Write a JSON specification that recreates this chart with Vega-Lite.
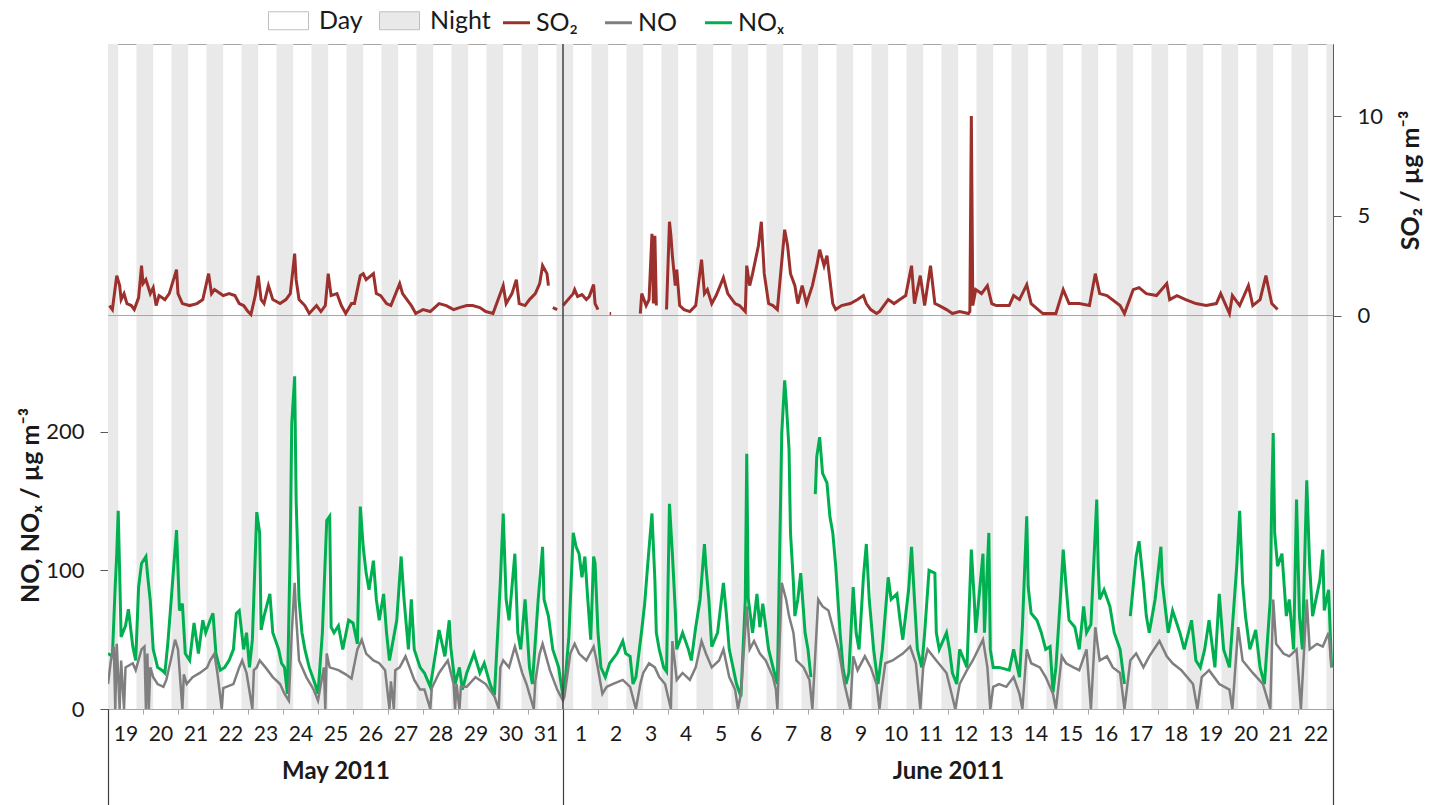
{
"$schema": "https://vega.github.io/schema/vega-lite/v6.json",
"width": 1225, "height": 665,
"autosize": {"type": "none"},
"padding": {"left": 108, "top": 44, "right": 101, "bottom": 96},
"background": "white",
"config": {
  "font": "Lato",
  "view": {"stroke": "#A6A6A6", "strokeWidth": 1},
  "axis": {"labelFont": "Lato", "titleFont": "Lato", "labelColor": "#1a1a1a", "titleColor": "#1a1a1a", "grid": false, "zindex": 1},
  "legend": {"labelFont": "Lato", "labelColor": "#1a1a1a"}
},
"datasets": {
"night": [
{"s":"2011-05-18T19:30","e":"2011-05-19T07:00"},{"s":"2011-05-19T19:30","e":"2011-05-20T07:00"},{"s":"2011-05-20T19:30","e":"2011-05-21T07:00"},{"s":"2011-05-21T19:30","e":"2011-05-22T07:00"},{"s":"2011-05-22T19:30","e":"2011-05-23T07:00"},{"s":"2011-05-23T19:30","e":"2011-05-24T07:00"},{"s":"2011-05-24T19:30","e":"2011-05-25T07:00"},{"s":"2011-05-25T19:30","e":"2011-05-26T07:00"},{"s":"2011-05-26T19:30","e":"2011-05-27T07:00"},{"s":"2011-05-27T19:30","e":"2011-05-28T07:00"},{"s":"2011-05-28T19:30","e":"2011-05-29T07:00"},{"s":"2011-05-29T19:30","e":"2011-05-30T07:00"},{"s":"2011-05-30T19:30","e":"2011-05-31T07:00"},{"s":"2011-05-31T19:30","e":"2011-06-01T07:00"},
{"s":"2011-06-01T19:30","e":"2011-06-02T07:00"},{"s":"2011-06-02T19:30","e":"2011-06-03T07:00"},{"s":"2011-06-03T19:30","e":"2011-06-04T07:00"},{"s":"2011-06-04T19:30","e":"2011-06-05T07:00"},{"s":"2011-06-05T19:30","e":"2011-06-06T07:00"},{"s":"2011-06-06T19:30","e":"2011-06-07T07:00"},{"s":"2011-06-07T19:30","e":"2011-06-08T07:00"},{"s":"2011-06-08T19:30","e":"2011-06-09T07:00"},{"s":"2011-06-09T19:30","e":"2011-06-10T07:00"},{"s":"2011-06-10T19:30","e":"2011-06-11T07:00"},{"s":"2011-06-11T19:30","e":"2011-06-12T07:00"},{"s":"2011-06-12T19:30","e":"2011-06-13T07:00"},{"s":"2011-06-13T19:30","e":"2011-06-14T07:00"},{"s":"2011-06-14T19:30","e":"2011-06-15T07:00"},{"s":"2011-06-15T19:30","e":"2011-06-16T07:00"},{"s":"2011-06-16T19:30","e":"2011-06-17T07:00"},{"s":"2011-06-17T19:30","e":"2011-06-18T07:00"},{"s":"2011-06-18T19:30","e":"2011-06-19T07:00"},{"s":"2011-06-19T19:30","e":"2011-06-20T07:00"},{"s":"2011-06-20T19:30","e":"2011-06-21T07:00"},{"s":"2011-06-21T19:30","e":"2011-06-22T07:00"},{"s":"2011-06-22T19:30","e":"2011-06-23T07:00"}
],
"nox": [
{"t":"2011-05-19T00:00","v":40},{"t":"2011-05-19T03:00","v":38},{"t":"2011-05-19T05:00","v":90},{"t":"2011-05-19T06:00","v":112},{"t":"2011-05-19T07:00","v":143},{"t":"2011-05-19T09:00","v":52},{"t":"2011-05-19T12:00","v":60},{"t":"2011-05-19T14:00","v":72},{"t":"2011-05-19T17:00","v":45},{"t":"2011-05-19T19:00","v":35},{"t":"2011-05-19T21:00","v":88},{"t":"2011-05-19T23:00","v":105},
{"t":"2011-05-20T02:00","v":110},{"t":"2011-05-20T03:00","v":98},{"t":"2011-05-20T05:00","v":78},{"t":"2011-05-20T07:00","v":43},{"t":"2011-05-20T10:00","v":30},{"t":"2011-05-20T13:00","v":28},{"t":"2011-05-20T15:00","v":26},{"t":"2011-05-20T17:00","v":47},{"t":"2011-05-20T19:00","v":74},{"t":"2011-05-20T23:00","v":129},
{"t":"2011-05-21T01:00","v":71},{"t":"2011-05-21T03:00","v":76},{"t":"2011-05-21T05:00","v":40},{"t":"2011-05-21T08:00","v":35},{"t":"2011-05-21T11:00","v":62},{"t":"2011-05-21T14:00","v":40},{"t":"2011-05-21T17:00","v":64},{"t":"2011-05-21T19:00","v":55},{"t":"2011-05-21T22:00","v":64},
{"t":"2011-05-22T00:00","v":69},{"t":"2011-05-22T02:00","v":40},{"t":"2011-05-22T05:00","v":28},{"t":"2011-05-22T08:00","v":30},{"t":"2011-05-22T11:00","v":35},{"t":"2011-05-22T14:00","v":43},{"t":"2011-05-22T16:00","v":69},{"t":"2011-05-22T18:00","v":71},{"t":"2011-05-22T21:00","v":43},{"t":"2011-05-22T23:00","v":55},
{"t":"2011-05-23T01:00","v":30},{"t":"2011-05-23T03:00","v":50},{"t":"2011-05-23T06:00","v":142},{"t":"2011-05-23T08:00","v":127},{"t":"2011-05-23T09:00","v":57},{"t":"2011-05-23T11:00","v":67},{"t":"2011-05-23T15:00","v":83},{"t":"2011-05-23T17:00","v":55},{"t":"2011-05-23T21:00","v":43},{"t":"2011-05-23T23:00","v":33},
{"t":"2011-05-24T01:00","v":30},{"t":"2011-05-24T03:00","v":11},{"t":"2011-05-24T05:00","v":120},{"t":"2011-05-24T06:00","v":206},{"t":"2011-05-24T08:00","v":240},{"t":"2011-05-24T09:00","v":151},{"t":"2011-05-24T11:00","v":79},{"t":"2011-05-24T13:00","v":55},{"t":"2011-05-24T15:00","v":43},{"t":"2011-05-24T18:00","v":30},{"t":"2011-05-24T22:00","v":18},
{"t":"2011-05-25T00:00","v":11},{"t":"2011-05-25T03:00","v":55},{"t":"2011-05-25T06:00","v":136},{"t":"2011-05-25T08:00","v":139},{"t":"2011-05-25T09:00","v":59},{"t":"2011-05-25T11:00","v":55},{"t":"2011-05-25T14:00","v":60},{"t":"2011-05-25T17:00","v":43},{"t":"2011-05-25T21:00","v":64},
{"t":"2011-05-26T00:00","v":62},{"t":"2011-05-26T03:00","v":47},{"t":"2011-05-26T05:00","v":146},{"t":"2011-05-26T07:00","v":117},{"t":"2011-05-26T09:00","v":98},{"t":"2011-05-26T11:00","v":86},{"t":"2011-05-26T14:00","v":107},{"t":"2011-05-26T16:00","v":79},{"t":"2011-05-26T18:00","v":64},{"t":"2011-05-26T21:00","v":83},{"t":"2011-05-26T23:00","v":55},
{"t":"2011-05-27T01:00","v":35},{"t":"2011-05-27T06:00","v":64},{"t":"2011-05-27T09:00","v":110},{"t":"2011-05-27T11:00","v":79},{"t":"2011-05-27T14:00","v":43},{"t":"2011-05-27T16:00","v":79},{"t":"2011-05-27T18:00","v":43},{"t":"2011-05-27T22:00","v":30},
{"t":"2011-05-28T01:00","v":26},{"t":"2011-05-28T05:00","v":16},{"t":"2011-05-28T09:00","v":43},{"t":"2011-05-28T11:00","v":57},{"t":"2011-05-28T15:00","v":38},{"t":"2011-05-28T18:00","v":64},{"t":"2011-05-28T19:00","v":45},{"t":"2011-05-28T22:00","v":18},
{"t":"2011-05-29T01:00","v":30},{"t":"2011-05-29T03:00","v":14},{"t":"2011-05-29T06:00","v":26},{"t":"2011-05-29T11:00","v":40},{"t":"2011-05-29T15:00","v":26},{"t":"2011-05-29T18:00","v":33},{"t":"2011-05-29T22:00","v":18},
{"t":"2011-05-30T01:00","v":10},{"t":"2011-05-30T05:00","v":91},{"t":"2011-05-30T07:00","v":141},{"t":"2011-05-30T09:00","v":79},{"t":"2011-05-30T11:00","v":64},{"t":"2011-05-30T15:00","v":112},{"t":"2011-05-30T17:00","v":55},{"t":"2011-05-30T19:00","v":43},{"t":"2011-05-30T22:00","v":79},
{"t":"2011-05-31T01:00","v":30},{"t":"2011-05-31T03:00","v":18},{"t":"2011-05-31T07:00","v":79},{"t":"2011-05-31T10:00","v":117},{"t":"2011-05-31T11:00","v":79},{"t":"2011-05-31T14:00","v":67},{"t":"2011-05-31T17:00","v":43},{"t":"2011-05-31T21:00","v":30},
{"t":"2011-06-01T00:00","v":9},{"t":"2011-06-01T01:00","v":14},{"t":"2011-06-01T04:00","v":52},{"t":"2011-06-01T07:00","v":127},{"t":"2011-06-01T09:00","v":117},{"t":"2011-06-01T11:00","v":112},{"t":"2011-06-01T13:00","v":95},{"t":"2011-06-01T15:00","v":110},{"t":"2011-06-01T17:00","v":79},{"t":"2011-06-01T19:00","v":50},{"t":"2011-06-01T21:00","v":110},{"t":"2011-06-01T22:00","v":105},
{"t":"2011-06-02T00:00","v":55},{"t":"2011-06-02T02:00","v":30},{"t":"2011-06-02T05:00","v":23},{"t":"2011-06-02T08:00","v":33},{"t":"2011-06-02T13:00","v":40},{"t":"2011-06-02T17:00","v":49},{"t":"2011-06-02T19:00","v":40},{"t":"2011-06-02T22:00","v":38},
{"t":"2011-06-03T00:00","v":18},{"t":"2011-06-03T02:00","v":23},{"t":"2011-06-03T06:00","v":57},{"t":"2011-06-03T08:00","v":76},{"t":"2011-06-03T10:00","v":103},{"t":"2011-06-03T13:00","v":141},{"t":"2011-06-03T15:00","v":93},{"t":"2011-06-03T16:00","v":55},{"t":"2011-06-03T18:00","v":43},{"t":"2011-06-03T21:00","v":30},{"t":"2011-06-03T23:00","v":27},
{"t":"2011-06-04T01:00","v":148},{"t":"2011-06-04T03:00","v":112},{"t":"2011-06-04T05:00","v":71},{"t":"2011-06-04T06:00","v":43},{"t":"2011-06-04T10:00","v":55},{"t":"2011-06-04T14:00","v":43},{"t":"2011-06-04T16:00","v":35},{"t":"2011-06-04T19:00","v":59},{"t":"2011-06-04T22:00","v":79},
{"t":"2011-06-05T01:00","v":119},{"t":"2011-06-05T02:00","v":103},{"t":"2011-06-05T04:00","v":79},{"t":"2011-06-05T06:00","v":45},{"t":"2011-06-05T10:00","v":55},{"t":"2011-06-05T14:00","v":91},{"t":"2011-06-05T16:00","v":69},{"t":"2011-06-05T18:00","v":43},{"t":"2011-06-05T23:00","v":18},
{"t":"2011-06-06T02:00","v":9},{"t":"2011-06-06T05:00","v":79},{"t":"2011-06-06T06:00","v":184},{"t":"2011-06-06T07:00","v":80},{"t":"2011-06-06T10:00","v":55},{"t":"2011-06-06T13:00","v":83},{"t":"2011-06-06T15:00","v":59},{"t":"2011-06-06T17:00","v":76},{"t":"2011-06-06T21:00","v":43},
{"t":"2011-06-07T00:00","v":30},{"t":"2011-06-07T03:00","v":18},{"t":"2011-06-07T06:00","v":199},{"t":"2011-06-07T08:00","v":237},{"t":"2011-06-07T09:00","v":223},{"t":"2011-06-07T11:00","v":187},{"t":"2011-06-07T12:00","v":127},{"t":"2011-06-07T14:00","v":91},{"t":"2011-06-07T15:00","v":67},{"t":"2011-06-07T17:00","v":79},{"t":"2011-06-07T19:00","v":98},{"t":"2011-06-07T22:00","v":55},
{"t":"2011-06-08T00:00","v":43},{"t":"2011-06-08T02:00","v":23},{"t":"2011-06-08T03:00","v":null},{"t":"2011-06-08T05:00","v":155},{"t":"2011-06-08T06:00","v":182},{"t":"2011-06-08T08:00","v":196},{"t":"2011-06-08T10:00","v":170},{"t":"2011-06-08T13:00","v":163},{"t":"2011-06-08T15:00","v":139},{"t":"2011-06-08T17:00","v":127},{"t":"2011-06-08T19:00","v":103},{"t":"2011-06-08T22:00","v":55},
{"t":"2011-06-09T00:00","v":30},{"t":"2011-06-09T02:00","v":18},{"t":"2011-06-09T04:00","v":26},{"t":"2011-06-09T07:00","v":88},{"t":"2011-06-09T09:00","v":55},{"t":"2011-06-09T11:00","v":43},{"t":"2011-06-09T14:00","v":95},{"t":"2011-06-09T16:00","v":119},{"t":"2011-06-09T18:00","v":79},{"t":"2011-06-09T21:00","v":43},
{"t":"2011-06-10T00:00","v":18},{"t":"2011-06-10T03:00","v":43},{"t":"2011-06-10T07:00","v":95},{"t":"2011-06-10T09:00","v":79},{"t":"2011-06-10T13:00","v":83},{"t":"2011-06-10T15:00","v":65},{"t":"2011-06-10T17:00","v":50},{"t":"2011-06-10T21:00","v":86},{"t":"2011-06-10T23:00","v":117},
{"t":"2011-06-11T01:00","v":79},{"t":"2011-06-11T03:00","v":43},{"t":"2011-06-11T06:00","v":30},{"t":"2011-06-11T08:00","v":55},{"t":"2011-06-11T11:00","v":100},{"t":"2011-06-11T15:00","v":98},{"t":"2011-06-11T16:00","v":55},{"t":"2011-06-11T18:00","v":43},{"t":"2011-06-11T23:00","v":55},
{"t":"2011-06-12T01:00","v":43},{"t":"2011-06-12T03:00","v":26},{"t":"2011-06-12T06:00","v":18},{"t":"2011-06-12T08:00","v":43},{"t":"2011-06-12T13:00","v":30},{"t":"2011-06-12T16:00","v":115},{"t":"2011-06-12T18:00","v":79},{"t":"2011-06-12T19:00","v":55},
{"t":"2011-06-13T00:00","v":112},{"t":"2011-06-13T01:00","v":55},{"t":"2011-06-13T04:00","v":127},{"t":"2011-06-13T05:00","v":43},{"t":"2011-06-13T07:00","v":30},{"t":"2011-06-13T11:00","v":30},{"t":"2011-06-13T18:00","v":28},{"t":"2011-06-13T21:00","v":43},
{"t":"2011-06-14T01:00","v":23},{"t":"2011-06-14T03:00","v":59},{"t":"2011-06-14T06:00","v":139},{"t":"2011-06-14T07:00","v":88},{"t":"2011-06-14T09:00","v":69},{"t":"2011-06-14T13:00","v":64},{"t":"2011-06-14T16:00","v":55},{"t":"2011-06-14T19:00","v":43},{"t":"2011-06-14T22:00","v":45},
{"t":"2011-06-15T00:00","v":12},{"t":"2011-06-15T02:00","v":30},{"t":"2011-06-15T05:00","v":79},{"t":"2011-06-15T07:00","v":115},{"t":"2011-06-15T09:00","v":88},{"t":"2011-06-15T11:00","v":64},{"t":"2011-06-15T15:00","v":59},{"t":"2011-06-15T18:00","v":43},{"t":"2011-06-15T21:00","v":74},{"t":"2011-06-15T23:00","v":55},
{"t":"2011-06-16T02:00","v":61},{"t":"2011-06-16T06:00","v":151},{"t":"2011-06-16T07:00","v":103},{"t":"2011-06-16T08:00","v":79},{"t":"2011-06-16T11:00","v":86},{"t":"2011-06-16T15:00","v":74},{"t":"2011-06-16T18:00","v":55},{"t":"2011-06-16T22:00","v":43},
{"t":"2011-06-17T01:00","v":18},{"t":"2011-06-17T02:00","v":null},{"t":"2011-06-17T05:00","v":67},{"t":"2011-06-17T09:00","v":110},{"t":"2011-06-17T11:00","v":121},{"t":"2011-06-17T14:00","v":91},{"t":"2011-06-17T16:00","v":67},{"t":"2011-06-17T18:00","v":55},{"t":"2011-06-17T22:00","v":79},
{"t":"2011-06-18T02:00","v":117},{"t":"2011-06-18T03:00","v":91},{"t":"2011-06-18T07:00","v":55},{"t":"2011-06-18T10:00","v":71},{"t":"2011-06-18T15:00","v":55},{"t":"2011-06-18T18:00","v":43},{"t":"2011-06-18T23:00","v":64},
{"t":"2011-06-19T02:00","v":35},{"t":"2011-06-19T05:00","v":30},{"t":"2011-06-19T08:00","v":43},{"t":"2011-06-19T11:00","v":64},{"t":"2011-06-19T15:00","v":30},{"t":"2011-06-19T18:00","v":83},{"t":"2011-06-19T21:00","v":43},
{"t":"2011-06-20T01:00","v":30},{"t":"2011-06-20T06:00","v":103},{"t":"2011-06-20T08:00","v":143},{"t":"2011-06-20T10:00","v":91},{"t":"2011-06-20T12:00","v":67},{"t":"2011-06-20T15:00","v":43},{"t":"2011-06-20T19:00","v":57},{"t":"2011-06-20T22:00","v":30},
{"t":"2011-06-21T01:00","v":18},{"t":"2011-06-21T05:00","v":79},{"t":"2011-06-21T06:00","v":153},{"t":"2011-06-21T07:00","v":199},{"t":"2011-06-21T08:00","v":127},{"t":"2011-06-21T10:00","v":103},{"t":"2011-06-21T13:00","v":112},{"t":"2011-06-21T16:00","v":67},{"t":"2011-06-21T18:00","v":79},{"t":"2011-06-21T21:00","v":43},{"t":"2011-06-21T23:00","v":151},
{"t":"2011-06-22T01:00","v":67},{"t":"2011-06-22T03:00","v":43},{"t":"2011-06-22T06:00","v":165},{"t":"2011-06-22T08:00","v":103},{"t":"2011-06-22T10:00","v":67},{"t":"2011-06-22T15:00","v":93},{"t":"2011-06-22T17:00","v":115},{"t":"2011-06-22T18:00","v":71},{"t":"2011-06-22T21:00","v":86},{"t":"2011-06-22T23:00","v":30}
],
"no": [
{"t":"2011-05-19T00:00","v":18},{"t":"2011-05-19T02:00","v":35},{"t":"2011-05-19T04:00","v":45},{"t":"2011-05-19T05:00","v":0},{"t":"2011-05-19T06:00","v":47},{"t":"2011-05-19T08:00","v":0},{"t":"2011-05-19T09:00","v":35},{"t":"2011-05-19T11:00","v":0},{"t":"2011-05-19T12:00","v":30},{"t":"2011-05-19T17:00","v":33},{"t":"2011-05-19T19:00","v":28},{"t":"2011-05-19T23:00","v":43},
{"t":"2011-05-20T01:00","v":45},{"t":"2011-05-20T02:00","v":0},{"t":"2011-05-20T03:00","v":40},{"t":"2011-05-20T04:00","v":0},{"t":"2011-05-20T05:00","v":30},{"t":"2011-05-20T07:00","v":23},{"t":"2011-05-20T10:00","v":18},{"t":"2011-05-20T14:00","v":16},{"t":"2011-05-20T16:00","v":21},{"t":"2011-05-20T19:00","v":35},{"t":"2011-05-20T22:00","v":50},
{"t":"2011-05-21T00:00","v":43},{"t":"2011-05-21T03:00","v":0},{"t":"2011-05-21T04:00","v":25},{"t":"2011-05-21T06:00","v":18},{"t":"2011-05-21T10:00","v":23},{"t":"2011-05-21T15:00","v":26},{"t":"2011-05-21T20:00","v":30},{"t":"2011-05-21T22:00","v":35},
{"t":"2011-05-22T01:00","v":40},{"t":"2011-05-22T03:00","v":26},{"t":"2011-05-22T06:00","v":0},{"t":"2011-05-22T07:00","v":15},{"t":"2011-05-22T14:00","v":18},{"t":"2011-05-22T18:00","v":30},{"t":"2011-05-22T20:00","v":35},{"t":"2011-05-22T23:00","v":26},
{"t":"2011-05-23T03:00","v":0},{"t":"2011-05-23T04:00","v":28},{"t":"2011-05-23T06:00","v":30},{"t":"2011-05-23T08:00","v":35},{"t":"2011-05-23T12:00","v":30},{"t":"2011-05-23T17:00","v":23},{"t":"2011-05-23T22:00","v":18},
{"t":"2011-05-24T01:00","v":11},{"t":"2011-05-24T04:00","v":6},{"t":"2011-05-24T06:00","v":55},{"t":"2011-05-24T08:00","v":91},{"t":"2011-05-24T09:00","v":67},{"t":"2011-05-24T11:00","v":35},{"t":"2011-05-24T16:00","v":23},{"t":"2011-05-24T21:00","v":14},
{"t":"2011-05-25T00:00","v":6},{"t":"2011-05-25T04:00","v":30},{"t":"2011-05-25T05:00","v":0},{"t":"2011-05-25T06:00","v":40},{"t":"2011-05-25T08:00","v":30},{"t":"2011-05-25T14:00","v":28},{"t":"2011-05-25T19:00","v":25},{"t":"2011-05-25T23:00","v":22},
{"t":"2011-05-26T03:00","v":43},{"t":"2011-05-26T06:00","v":50},{"t":"2011-05-26T09:00","v":40},{"t":"2011-05-26T14:00","v":35},{"t":"2011-05-26T18:00","v":33},{"t":"2011-05-26T22:00","v":28},
{"t":"2011-05-27T01:00","v":0},{"t":"2011-05-27T02:00","v":20},{"t":"2011-05-27T04:00","v":0},{"t":"2011-05-27T05:00","v":28},{"t":"2011-05-27T08:00","v":30},{"t":"2011-05-27T12:00","v":38},{"t":"2011-05-27T18:00","v":21},{"t":"2011-05-27T22:00","v":14},
{"t":"2011-05-28T01:00","v":14},{"t":"2011-05-28T05:00","v":0},{"t":"2011-05-28T06:00","v":15},{"t":"2011-05-28T11:00","v":26},{"t":"2011-05-28T17:00","v":35},{"t":"2011-05-28T21:00","v":18},{"t":"2011-05-28T22:00","v":0},{"t":"2011-05-28T23:00","v":18},
{"t":"2011-05-29T01:00","v":0},{"t":"2011-05-29T02:00","v":16},{"t":"2011-05-29T06:00","v":16},{"t":"2011-05-29T12:00","v":23},{"t":"2011-05-29T19:00","v":18},{"t":"2011-05-29T23:00","v":12},
{"t":"2011-05-30T01:00","v":9},{"t":"2011-05-30T04:00","v":0},{"t":"2011-05-30T05:00","v":30},{"t":"2011-05-30T07:00","v":35},{"t":"2011-05-30T11:00","v":30},{"t":"2011-05-30T15:00","v":45},{"t":"2011-05-30T20:00","v":26},{"t":"2011-05-30T23:00","v":18},
{"t":"2011-05-31T04:00","v":0},{"t":"2011-05-31T05:00","v":20},{"t":"2011-05-31T08:00","v":40},{"t":"2011-05-31T10:00","v":47},{"t":"2011-05-31T15:00","v":28},{"t":"2011-05-31T20:00","v":14},
{"t":"2011-06-01T00:00","v":6},{"t":"2011-06-01T01:00","v":9},{"t":"2011-06-01T05:00","v":40},{"t":"2011-06-01T08:00","v":47},{"t":"2011-06-01T11:00","v":40},{"t":"2011-06-01T16:00","v":35},{"t":"2011-06-01T21:00","v":45},{"t":"2011-06-01T23:00","v":35},
{"t":"2011-06-02T03:00","v":11},{"t":"2011-06-02T06:00","v":16},{"t":"2011-06-02T10:00","v":18},{"t":"2011-06-02T17:00","v":21},{"t":"2011-06-02T22:00","v":16},
{"t":"2011-06-03T02:00","v":0},{"t":"2011-06-03T05:00","v":18},{"t":"2011-06-03T07:00","v":26},{"t":"2011-06-03T11:00","v":33},{"t":"2011-06-03T15:00","v":30},{"t":"2011-06-03T18:00","v":23},{"t":"2011-06-03T22:00","v":18},
{"t":"2011-06-04T02:00","v":0},{"t":"2011-06-04T03:00","v":49},{"t":"2011-06-04T06:00","v":21},{"t":"2011-06-04T10:00","v":26},{"t":"2011-06-04T15:00","v":21},{"t":"2011-06-04T19:00","v":30},{"t":"2011-06-04T23:00","v":49},
{"t":"2011-06-05T02:00","v":40},{"t":"2011-06-05T06:00","v":30},{"t":"2011-06-05T11:00","v":35},{"t":"2011-06-05T14:00","v":43},{"t":"2011-06-05T18:00","v":23},{"t":"2011-06-05T22:00","v":14},
{"t":"2011-06-06T00:00","v":0},{"t":"2011-06-06T02:00","v":11},{"t":"2011-06-06T06:00","v":74},{"t":"2011-06-06T08:00","v":43},{"t":"2011-06-06T11:00","v":49},{"t":"2011-06-06T15:00","v":40},{"t":"2011-06-06T19:00","v":35},
{"t":"2011-06-07T00:00","v":23},{"t":"2011-06-07T02:00","v":14},{"t":"2011-06-07T03:00","v":0},{"t":"2011-06-07T06:00","v":91},{"t":"2011-06-07T09:00","v":79},{"t":"2011-06-07T11:00","v":67},{"t":"2011-06-07T14:00","v":55},{"t":"2011-06-07T16:00","v":35},{"t":"2011-06-07T21:00","v":30},
{"t":"2011-06-08T01:00","v":21},{"t":"2011-06-08T03:00","v":0},{"t":"2011-06-08T07:00","v":79},{"t":"2011-06-08T10:00","v":74},{"t":"2011-06-08T14:00","v":71},{"t":"2011-06-08T17:00","v":59},{"t":"2011-06-08T21:00","v":43},
{"t":"2011-06-09T01:00","v":18},{"t":"2011-06-09T05:00","v":0},{"t":"2011-06-09T07:00","v":38},{"t":"2011-06-09T10:00","v":28},{"t":"2011-06-09T15:00","v":38},{"t":"2011-06-09T19:00","v":30},{"t":"2011-06-09T23:00","v":18},
{"t":"2011-06-10T01:00","v":0},{"t":"2011-06-10T02:00","v":10},{"t":"2011-06-10T05:00","v":33},{"t":"2011-06-10T10:00","v":35},{"t":"2011-06-10T17:00","v":40},{"t":"2011-06-10T22:00","v":45},
{"t":"2011-06-11T02:00","v":33},{"t":"2011-06-11T05:00","v":0},{"t":"2011-06-11T07:00","v":30},{"t":"2011-06-11T10:00","v":43},{"t":"2011-06-11T16:00","v":35},{"t":"2011-06-11T23:00","v":26},
{"t":"2011-06-12T05:00","v":0},{"t":"2011-06-12T08:00","v":18},{"t":"2011-06-12T13:00","v":28},{"t":"2011-06-12T17:00","v":35},
{"t":"2011-06-13T00:00","v":50},{"t":"2011-06-13T03:00","v":30},{"t":"2011-06-13T05:00","v":0},{"t":"2011-06-13T07:00","v":16},{"t":"2011-06-13T11:00","v":18},{"t":"2011-06-13T16:00","v":16},{"t":"2011-06-13T21:00","v":23},
{"t":"2011-06-14T01:00","v":11},{"t":"2011-06-14T03:00","v":0},{"t":"2011-06-14T06:00","v":43},{"t":"2011-06-14T09:00","v":33},{"t":"2011-06-14T15:00","v":30},{"t":"2011-06-14T19:00","v":23},
{"t":"2011-06-15T00:00","v":11},{"t":"2011-06-15T02:00","v":0},{"t":"2011-06-15T06:00","v":38},{"t":"2011-06-15T09:00","v":33},{"t":"2011-06-15T14:00","v":30},{"t":"2011-06-15T18:00","v":28},{"t":"2011-06-15T23:00","v":43},
{"t":"2011-06-16T02:00","v":0},{"t":"2011-06-16T05:00","v":59},{"t":"2011-06-16T08:00","v":35},{"t":"2011-06-16T13:00","v":38},{"t":"2011-06-16T17:00","v":30},{"t":"2011-06-16T22:00","v":26},
{"t":"2011-06-17T01:00","v":0},{"t":"2011-06-17T05:00","v":35},{"t":"2011-06-17T09:00","v":40},{"t":"2011-06-17T14:00","v":30},{"t":"2011-06-17T18:00","v":38},
{"t":"2011-06-18T01:00","v":49},{"t":"2011-06-18T06:00","v":38},{"t":"2011-06-18T10:00","v":33},{"t":"2011-06-18T16:00","v":28},
{"t":"2011-06-19T00:00","v":18},{"t":"2011-06-19T03:00","v":0},{"t":"2011-06-19T06:00","v":23},{"t":"2011-06-19T11:00","v":28},{"t":"2011-06-19T18:00","v":18},
{"t":"2011-06-20T01:00","v":14},{"t":"2011-06-20T03:00","v":0},{"t":"2011-06-20T07:00","v":59},{"t":"2011-06-20T10:00","v":35},{"t":"2011-06-20T17:00","v":26},
{"t":"2011-06-21T00:00","v":18},{"t":"2011-06-21T05:00","v":0},{"t":"2011-06-21T07:00","v":79},{"t":"2011-06-21T09:00","v":47},{"t":"2011-06-21T14:00","v":40},{"t":"2011-06-21T18:00","v":38},{"t":"2011-06-21T23:00","v":43},
{"t":"2011-06-22T02:00","v":0},{"t":"2011-06-22T06:00","v":79},{"t":"2011-06-22T08:00","v":43},{"t":"2011-06-22T13:00","v":47},{"t":"2011-06-22T17:00","v":45},{"t":"2011-06-22T21:00","v":55},{"t":"2011-06-22T23:00","v":30}
],
"so2": [
{"t":"2011-05-19T01:00","v":0.5},{"t":"2011-05-19T03:00","v":0.3},{"t":"2011-05-19T06:00","v":2.0},{"t":"2011-05-19T08:00","v":1.5},{"t":"2011-05-19T09:00","v":0.8},{"t":"2011-05-19T11:00","v":1.1},{"t":"2011-05-19T13:00","v":0.6},{"t":"2011-05-19T16:00","v":0.5},{"t":"2011-05-19T18:00","v":0.3},{"t":"2011-05-19T21:00","v":0.9},{"t":"2011-05-19T23:00","v":2.5},
{"t":"2011-05-20T00:00","v":1.6},{"t":"2011-05-20T02:00","v":1.8},{"t":"2011-05-20T05:00","v":1.1},{"t":"2011-05-20T07:00","v":1.4},{"t":"2011-05-20T09:00","v":0.5},{"t":"2011-05-20T11:00","v":1.0},{"t":"2011-05-20T15:00","v":0.8},{"t":"2011-05-20T18:00","v":1.1},{"t":"2011-05-20T23:00","v":2.3},
{"t":"2011-05-21T00:00","v":1.1},{"t":"2011-05-21T03:00","v":0.6},{"t":"2011-05-21T08:00","v":0.5},{"t":"2011-05-21T13:00","v":0.6},{"t":"2011-05-21T17:00","v":0.8},{"t":"2011-05-21T21:00","v":2.1},{"t":"2011-05-21T23:00","v":1.1},
{"t":"2011-05-22T01:00","v":1.3},{"t":"2011-05-22T07:00","v":1.0},{"t":"2011-05-22T11:00","v":1.1},{"t":"2011-05-22T15:00","v":1.0},{"t":"2011-05-22T18:00","v":0.6},{"t":"2011-05-22T21:00","v":0.5},
{"t":"2011-05-23T00:00","v":0.2},{"t":"2011-05-23T02:00","v":0.05},{"t":"2011-05-23T05:00","v":1.0},{"t":"2011-05-23T07:00","v":2.0},{"t":"2011-05-23T09:00","v":0.8},{"t":"2011-05-23T11:00","v":0.6},{"t":"2011-05-23T14:00","v":1.5},{"t":"2011-05-23T17:00","v":0.8},{"t":"2011-05-23T22:00","v":0.6},
{"t":"2011-05-24T02:00","v":0.8},{"t":"2011-05-24T05:00","v":1.1},{"t":"2011-05-24T08:00","v":3.1},{"t":"2011-05-24T09:00","v":1.8},{"t":"2011-05-24T11:00","v":0.8},{"t":"2011-05-24T15:00","v":0.5},{"t":"2011-05-24T18:00","v":0.1},{"t":"2011-05-24T23:00","v":0.5},
{"t":"2011-05-25T02:00","v":0.2},{"t":"2011-05-25T05:00","v":0.5},{"t":"2011-05-25T07:00","v":2.1},{"t":"2011-05-25T09:00","v":1.0},{"t":"2011-05-25T13:00","v":1.1},{"t":"2011-05-25T16:00","v":0.5},{"t":"2011-05-25T19:00","v":0.1},{"t":"2011-05-25T23:00","v":0.6},
{"t":"2011-05-26T01:00","v":0.6},{"t":"2011-05-26T05:00","v":2.0},{"t":"2011-05-26T07:00","v":2.1},{"t":"2011-05-26T09:00","v":1.8},{"t":"2011-05-26T14:00","v":2.1},{"t":"2011-05-26T16:00","v":1.1},{"t":"2011-05-26T19:00","v":1.0},{"t":"2011-05-26T23:00","v":0.6},
{"t":"2011-05-27T02:00","v":0.5},{"t":"2011-05-27T08:00","v":1.6},{"t":"2011-05-27T10:00","v":1.1},{"t":"2011-05-27T13:00","v":0.8},{"t":"2011-05-27T16:00","v":0.5},{"t":"2011-05-27T19:00","v":0.1},
{"t":"2011-05-28T00:00","v":0.3},{"t":"2011-05-28T05:00","v":0.2},{"t":"2011-05-28T11:00","v":0.6},{"t":"2011-05-28T16:00","v":0.5},{"t":"2011-05-28T21:00","v":0.3},
{"t":"2011-05-29T01:00","v":0.4},{"t":"2011-05-29T06:00","v":0.5},{"t":"2011-05-29T10:00","v":0.5},{"t":"2011-05-29T15:00","v":0.4},{"t":"2011-05-29T19:00","v":0.2},
{"t":"2011-05-30T00:00","v":0.1},{"t":"2011-05-30T07:00","v":1.5},{"t":"2011-05-30T09:00","v":0.6},{"t":"2011-05-30T13:00","v":1.1},{"t":"2011-05-30T16:00","v":1.8},{"t":"2011-05-30T18:00","v":0.6},{"t":"2011-05-30T22:00","v":0.5},
{"t":"2011-05-31T01:00","v":0.8},{"t":"2011-05-31T05:00","v":1.1},{"t":"2011-05-31T08:00","v":1.6},{"t":"2011-05-31T10:00","v":2.5},{"t":"2011-05-31T13:00","v":2.1},{"t":"2011-05-31T14:00","v":1.5},{"t":"2011-05-31T16:00","v":null},{"t":"2011-05-31T17:00","v":0.4},{"t":"2011-05-31T20:00","v":0.3},{"t":"2011-05-31T22:00","v":null},
{"t":"2011-06-01T00:00","v":0.5},{"t":"2011-06-01T07:00","v":1.1},{"t":"2011-06-01T08:00","v":1.3},{"t":"2011-06-01T10:00","v":0.95},{"t":"2011-06-01T13:00","v":1.05},{"t":"2011-06-01T16:00","v":0.8},{"t":"2011-06-01T18:00","v":0.95},{"t":"2011-06-01T21:00","v":1.55},{"t":"2011-06-01T22:00","v":0.6},
{"t":"2011-06-02T00:00","v":0.3},{"t":"2011-06-02T02:00","v":null},{"t":"2011-06-02T08:00","v":0.1},{"t":"2011-06-02T09:00","v":0.1},{"t":"2011-06-02T11:00","v":null},
{"t":"2011-06-03T05:00","v":0.1},{"t":"2011-06-03T06:00","v":1.1},{"t":"2011-06-03T09:00","v":0.5},{"t":"2011-06-03T11:00","v":0.8},{"t":"2011-06-03T13:00","v":4.1},{"t":"2011-06-03T14:00","v":0.6},{"t":"2011-06-03T15:00","v":4.0},{"t":"2011-06-03T16:00","v":0.5},{"t":"2011-06-03T18:00","v":null},{"t":"2011-06-03T23:00","v":0.3},
{"t":"2011-06-04T01:00","v":4.7},{"t":"2011-06-04T02:00","v":4.0},{"t":"2011-06-04T03:00","v":3.0},{"t":"2011-06-04T05:00","v":1.5},{"t":"2011-06-04T06:00","v":2.3},{"t":"2011-06-04T08:00","v":0.5},{"t":"2011-06-04T11:00","v":0.3},{"t":"2011-06-04T15:00","v":0.2},{"t":"2011-06-04T19:00","v":0.5},{"t":"2011-06-04T23:00","v":2.8},
{"t":"2011-06-05T01:00","v":1.1},{"t":"2011-06-05T03:00","v":1.3},{"t":"2011-06-05T06:00","v":0.6},{"t":"2011-06-05T09:00","v":1.0},{"t":"2011-06-05T14:00","v":1.9},{"t":"2011-06-05T17:00","v":1.1},{"t":"2011-06-05T22:00","v":0.6},
{"t":"2011-06-06T01:00","v":0.5},{"t":"2011-06-06T05:00","v":0.2},{"t":"2011-06-06T06:00","v":2.5},{"t":"2011-06-06T08:00","v":1.5},{"t":"2011-06-06T10:00","v":2.1},{"t":"2011-06-06T14:00","v":3.5},{"t":"2011-06-06T16:00","v":4.7},{"t":"2011-06-06T18:00","v":2.1},{"t":"2011-06-06T21:00","v":0.6},
{"t":"2011-06-07T00:00","v":0.5},{"t":"2011-06-07T03:00","v":0.3},{"t":"2011-06-07T08:00","v":4.3},{"t":"2011-06-07T10:00","v":3.5},{"t":"2011-06-07T12:00","v":2.1},{"t":"2011-06-07T15:00","v":1.5},{"t":"2011-06-07T17:00","v":0.6},{"t":"2011-06-07T20:00","v":1.5},{"t":"2011-06-07T23:00","v":0.6},
{"t":"2011-06-08T03:00","v":1.5},{"t":"2011-06-08T06:00","v":2.5},{"t":"2011-06-08T08:00","v":3.3},{"t":"2011-06-08T11:00","v":2.5},{"t":"2011-06-08T13:00","v":3.0},{"t":"2011-06-08T15:00","v":1.8},{"t":"2011-06-08T17:00","v":0.6},{"t":"2011-06-08T19:00","v":0.3},{"t":"2011-06-08T23:00","v":0.5},
{"t":"2011-06-09T05:00","v":0.6},{"t":"2011-06-09T10:00","v":0.8},{"t":"2011-06-09T14:00","v":1.0},{"t":"2011-06-09T16:00","v":0.6},{"t":"2011-06-09T19:00","v":0.3},{"t":"2011-06-09T23:00","v":0.1},
{"t":"2011-06-10T01:00","v":0.2},{"t":"2011-06-10T07:00","v":0.8},{"t":"2011-06-10T11:00","v":0.6},{"t":"2011-06-10T15:00","v":0.8},{"t":"2011-06-10T19:00","v":1.0},{"t":"2011-06-10T23:00","v":2.5},
{"t":"2011-06-11T01:00","v":0.6},{"t":"2011-06-11T05:00","v":2.0},{"t":"2011-06-11T08:00","v":0.5},{"t":"2011-06-11T12:00","v":2.5},{"t":"2011-06-11T15:00","v":0.6},{"t":"2011-06-11T18:00","v":0.5},{"t":"2011-06-11T23:00","v":0.3},
{"t":"2011-06-12T03:00","v":0.1},{"t":"2011-06-12T08:00","v":0.2},{"t":"2011-06-12T14:00","v":0.1},{"t":"2011-06-12T15:00","v":0.2},{"t":"2011-06-12T16:00","v":10.0},{"t":"2011-06-12T17:00","v":0.5},{"t":"2011-06-12T19:00","v":1.3},{"t":"2011-06-12T23:00","v":1.1},
{"t":"2011-06-13T03:00","v":1.5},{"t":"2011-06-13T06:00","v":0.6},{"t":"2011-06-13T09:00","v":0.5},{"t":"2011-06-13T11:00","v":0.5},{"t":"2011-06-13T18:00","v":0.5},{"t":"2011-06-13T21:00","v":1.0},
{"t":"2011-06-14T01:00","v":0.8},{"t":"2011-06-14T06:00","v":1.55},{"t":"2011-06-14T09:00","v":0.6},{"t":"2011-06-14T17:00","v":0.1},
{"t":"2011-06-15T02:00","v":0.1},{"t":"2011-06-15T07:00","v":1.3},{"t":"2011-06-15T11:00","v":0.6},{"t":"2011-06-15T18:00","v":0.6},
{"t":"2011-06-16T01:00","v":0.5},{"t":"2011-06-16T05:00","v":2.1},{"t":"2011-06-16T08:00","v":1.1},{"t":"2011-06-16T13:00","v":1.0},{"t":"2011-06-16T22:00","v":0.5},
{"t":"2011-06-17T01:00","v":0.1},{"t":"2011-06-17T07:00","v":1.3},{"t":"2011-06-17T11:00","v":1.4},{"t":"2011-06-17T16:00","v":1.1},{"t":"2011-06-17T23:00","v":1.0},
{"t":"2011-06-18T06:00","v":1.6},{"t":"2011-06-18T08:00","v":0.8},{"t":"2011-06-18T13:00","v":1.0},{"t":"2011-06-18T19:00","v":0.8},
{"t":"2011-06-19T02:00","v":0.6},{"t":"2011-06-19T09:00","v":0.5},{"t":"2011-06-19T16:00","v":0.6},{"t":"2011-06-19T19:00","v":1.1},
{"t":"2011-06-20T01:00","v":0.1},{"t":"2011-06-20T03:00","v":1.0},{"t":"2011-06-20T08:00","v":0.5},{"t":"2011-06-20T14:00","v":1.5},{"t":"2011-06-20T17:00","v":0.5},{"t":"2011-06-20T22:00","v":0.8},
{"t":"2011-06-21T02:00","v":2.0},{"t":"2011-06-21T06:00","v":0.6},{"t":"2011-06-21T10:00","v":0.3}
]
},
"resolve": {"scale": {"y": "independent"}, "axis": {"x": "independent", "y": "independent"}},
"layer": [
{
  "data": {"name": "night"},
  "mark": {"type": "rect", "clip": true},
  "encoding": {
    "x": {"field": "s", "type": "temporal",
      "scale": {"domain": [{"year": 2011, "month": 5, "date": 19}, {"year": 2011, "month": 6, "date": 23}], "nice": false},
      "axis": {"orient": "bottom", "tickCount": {"interval": "day", "step": 1}, "tickSize": 5, "tickColor": "#A6A6A6", "domain": false,
        "labelExpr": "datum.value < time(datetime(2011,5,23)) ? '' + date(datum.value) : ''",
        "labelOffset": 17.5, "labelFontSize": 21, "labelPadding": 9, "labelAngle": 0, "labelFlush": false, "labelOverlap": false, "labelBound": false, "title": null}},
    "x2": {"field": "e"},
    "fill": {"datum": "Night", "type": "nominal",
      "scale": {"domain": ["Day", "Night"], "range": ["#FFFFFF", "#E9E9E9"]},
      "legend": {"orient": "none", "legendX": 160, "legendY": -44, "direction": "horizontal", "title": null,
        "symbolType": "M-1,-0.45H1V0.45H-1Z", "symbolSize": 1600, "symbolStrokeColor": "#BFBFBF", "symbolStrokeWidth": 1,
        "labelFontSize": 25, "labelOffset": 10, "columnPadding": 14}}
  }
},
{
  "data": {"name": "nox"},
  "mark": {"type": "line", "strokeWidth": 3, "clip": true, "invalid": "break-paths-filter-domains"},
  "encoding": {
    "x": {"field": "t", "type": "temporal",
      "scale": {"domain": [{"year": 2011, "month": 5, "date": 19}, {"year": 2011, "month": 6, "date": 23}], "nice": false},
      "axis": {"orient": "bottom", "values": [{"year": 2011, "month": 5, "date": 25, "hours": 12}, {"year": 2011, "month": 6, "date": 12}],
        "format": "%B %Y", "labelFontSize": 24, "labelFontWeight": "bold", "ticks": false, "domain": false,
        "labelPadding": 50, "labelAngle": 0, "labelFlush": false, "title": null}},
    "y": {"field": "v", "type": "quantitative",
      "scale": {"domain": [0, 479.6], "nice": false, "zero": false},
      "axis": {"orient": "left", "values": [0, 100, 200], "tickSize": 8, "labelPadding": 16, "labelFontSize": 22,
        "domainColor": "#595959", "tickColor": "#595959",
        "title": "NO, NOₓ / µg m⁻³", "titleFontSize": 25, "titleFontWeight": "bold", "titleAngle": -90,
        "titleX": -78, "titleY": 461, "titleAlign": "center", "titleBaseline": "middle"}},
    "color": {"datum": "NOₓ", "type": "nominal",
      "scale": {"domain": ["SO₂", "NO", "NOₓ"], "range": ["#9B302C", "#7F7F7F", "#00B050"]},
      "legend": {"orient": "none", "legendX": 393, "legendY": -37, "direction": "horizontal", "title": null,
        "symbolType": "stroke", "symbolSize": 730, "symbolStrokeWidth": 3, "labelFontSize": 25, "labelOffset": 4, "columnPadding": 20}}
  }
},
{
  "data": {"name": "no"},
  "mark": {"type": "line", "strokeWidth": 2.5, "clip": true, "invalid": "break-paths-filter-domains"},
  "encoding": {
    "x": {"field": "t", "type": "temporal",
      "scale": {"domain": [{"year": 2011, "month": 5, "date": 19}, {"year": 2011, "month": 6, "date": 23}], "nice": false},
      "axis": {"orient": "bottom", "values": [{"year": 2011, "month": 5, "date": 19}, {"year": 2011, "month": 6, "date": 1}, {"year": 2011, "month": 6, "date": 23}],
        "tickSize": 96, "tickColor": "#404040", "tickWidth": 1.2, "labels": false, "domain": false, "title": null}},
    "y": {"field": "v", "type": "quantitative", "scale": {"domain": [0, 479.6], "nice": false, "zero": false}, "axis": null},
    "color": {"datum": "NO", "type": "nominal"}
  }
},
{
  "data": {"values": [{}]},
  "mark": {"type": "rule", "color": "#A6A6A6", "strokeWidth": 1},
  "encoding": {
    "y": {"datum": 0, "type": "quantitative", "scale": {"domain": [-19.72, 13.61], "nice": false, "zero": false}, "axis": null}
  }
},
{
  "data": {"name": "so2"},
  "mark": {"type": "line", "strokeWidth": 3, "clip": true, "invalid": "break-paths-filter-domains"},
  "encoding": {
    "x": {"field": "t", "type": "temporal",
      "scale": {"domain": [{"year": 2011, "month": 5, "date": 19}, {"year": 2011, "month": 6, "date": 23}], "nice": false},
      "axis": null},
    "y": {"field": "v", "type": "quantitative",
      "scale": {"domain": [-19.72, 13.61], "nice": false, "zero": false},
      "axis": {"orient": "right", "values": [0, 5, 10], "tickSize": 8, "labelPadding": 16, "labelFontSize": 22,
        "domainColor": "#595959", "tickColor": "#595959",
        "title": "SO₂ / µg m⁻³", "titleFontSize": 25, "titleFontWeight": "bold", "titleAngle": -90,
        "titleX": 77, "titleY": 136, "titleAlign": "center", "titleBaseline": "middle"}},
    "color": {"datum": "SO₂", "type": "nominal"}
  }
},
{
  "data": {"values": [{}]},
  "mark": {"type": "rule", "color": "#404040", "strokeWidth": 1.5},
  "encoding": {
    "x": {"datum": {"year": 2011, "month": 6, "date": 1}, "type": "temporal",
      "scale": {"domain": [{"year": 2011, "month": 5, "date": 19}, {"year": 2011, "month": 6, "date": 23}], "nice": false},
      "axis": null}
  }
}
]
}
